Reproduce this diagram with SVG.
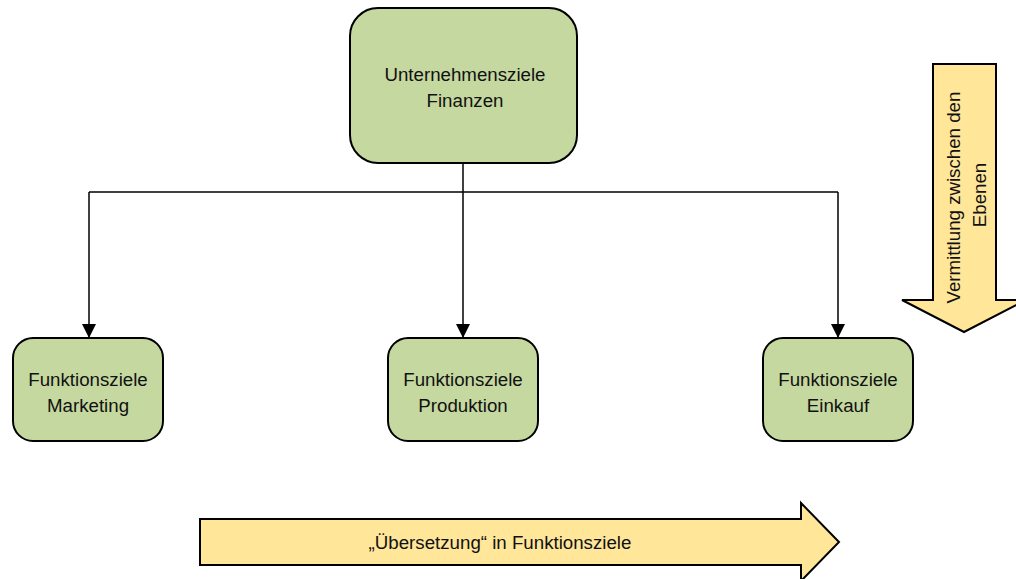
<svg xmlns="http://www.w3.org/2000/svg" width="1016" height="579" viewBox="0 0 1016 579">
  <defs>
    <style>
      .node { fill: #C5D89F; stroke: #000; stroke-width: 2; }
      .band { fill: #FFE699; stroke: #000; stroke-width: 2; stroke-linejoin: miter; }
      .label { font-family: "Liberation Sans", Arial, sans-serif; font-size: 18.7px; fill: #111; text-anchor: middle; }
      .link { fill: none; stroke: #000; stroke-width: 1.5; }
    </style>
    <marker id="arrow" viewBox="0 0 14 14" refX="14" refY="7" markerWidth="14" markerHeight="14" markerUnits="userSpaceOnUse" orient="auto">
      <path d="M0,0 L14,7 L0,14 Z" fill="#000"/>
    </marker>
  </defs>
  <rect width="1016" height="579" fill="#fff"/>

  <g id="connectors">
    <line class="link" x1="463" y1="163" x2="463" y2="192"/>
    <line class="link" x1="89" y1="192" x2="838" y2="192"/>
    <line class="link" x1="89" y1="192" x2="89" y2="338" marker-end="url(#arrow)"/>
    <line class="link" x1="463" y1="192" x2="463" y2="338" marker-end="url(#arrow)"/>
    <line class="link" x1="838" y1="192" x2="838" y2="338" marker-end="url(#arrow)"/>
  </g>

  <g id="node-finanzen">
    <rect class="node" x="350" y="8" width="227" height="155" rx="28" ry="28"/>
    <text class="label" x="465" y="81">Unternehmensziele</text>
    <text class="label" x="465" y="107">Finanzen</text>
  </g>

  <g id="node-marketing">
    <rect class="node" x="13" y="338" width="150" height="103" rx="20" ry="20"/>
    <text class="label" x="88" y="386">Funktionsziele</text>
    <text class="label" x="88" y="412">Marketing</text>
  </g>

  <g id="node-produktion">
    <rect class="node" x="388" y="338" width="150" height="103" rx="20" ry="20"/>
    <text class="label" x="463" y="386">Funktionsziele</text>
    <text class="label" x="463" y="412">Produktion</text>
  </g>

  <g id="node-einkauf">
    <rect class="node" x="763" y="338" width="150" height="103" rx="20" ry="20"/>
    <text class="label" x="838" y="386">Funktionsziele</text>
    <text class="label" x="838" y="412">Einkauf</text>
  </g>

  <g id="band-vertical">
    <path class="band" d="M933,64 L996,64 L996,300 L1026,300 L964,332 L902,300 L933,300 Z"/>
    <text class="label" transform="translate(964,195) rotate(-90)">
      <tspan x="0" y="-4">Vermittlung zwischen den</tspan>
      <tspan x="0" y="22">Ebenen</tspan>
    </text>
  </g>

  <g id="band-horizontal">
    <path class="band" d="M200,519 L801,519 L801,503 L839,542 L801,581 L801,565 L200,565 Z"/>
    <text class="label" x="500" y="549">„Übersetzung“ in Funktionsziele</text>
  </g>
</svg>
